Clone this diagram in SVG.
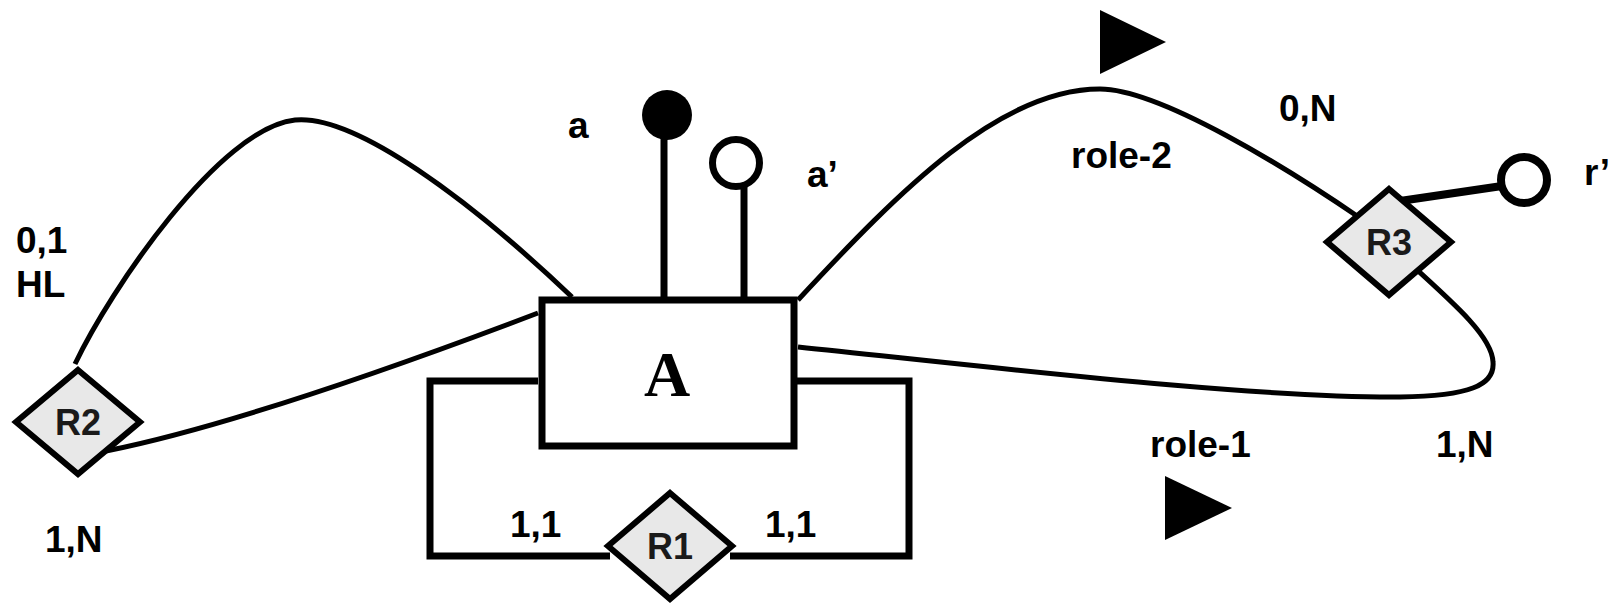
<svg xmlns="http://www.w3.org/2000/svg" width="1614" height="613" viewBox="0 0 1614 613">
<style>
.lbl{font-family:"Liberation Sans",Arial,sans-serif;font-weight:bold;font-size:37px;fill:#000}
.dl{font-family:"Liberation Sans",Arial,sans-serif;font-weight:bold;font-size:36px;fill:#1a1a1a;text-anchor:middle}
.ent{font-family:"Liberation Serif","Times New Roman",serif;font-weight:bold;font-size:64px;fill:#000;text-anchor:middle}
.curve{fill:none;stroke:#000;stroke-width:5}
.thick{fill:none;stroke:#000;stroke-width:7}
.dia{fill:#e8e8e8;stroke:#000;stroke-width:6;stroke-linejoin:miter}
</style>
<rect width="1614" height="613" fill="#fff"/>
<g id="connectors">
<path class="curve" d="M75,364 C110,290 220,128 295,120 C355,114 470,200 572,297"/>
<path class="curve" d="M106,451 Q251,422 538,313"/>
<path class="curve" d="M798,300 C900,190 1000,89 1100,89 C1160,89 1290,170 1360,218"/>
<path class="curve" d="M798,347 C1000,368 1250,398 1400,397 C1470,396 1495,385 1493,362 C1492,335 1450,300 1395,250"/>
<path class="thick" d="M538,381 H430 V556 H610"/>
<path class="thick" d="M797,381 H909 V556 H730"/>
<line class="thick" x1="664" y1="135" x2="664" y2="300"/>
<line class="thick" x1="744" y1="185" x2="744" y2="300"/>
<line x1="1400" y1="201" x2="1502" y2="186" stroke="#000" stroke-width="8"/>
</g>
<g id="A">
<rect x="542" y="300" width="252" height="146" fill="#fff" stroke="#000" stroke-width="7"/>
<text class="ent" x="667" y="396">A</text>
</g>
<g id="attr-a">
<circle cx="667" cy="115" r="25" fill="#000"/>
<text class="lbl" x="568" y="138">a</text>
</g>
<g id="attr-a2">
<circle cx="736" cy="163" r="23.5" fill="#fff" stroke="#000" stroke-width="7"/>
<text class="lbl" x="807" y="187">a’</text>
</g>
<g id="R1">
<path class="dia" d="M670,493 L732,546 L670,599 L608,546 Z"/>
<text class="dl" x="670" y="559">R1</text>
</g>
<g id="R2">
<path class="dia" d="M78,370 L140,422 L78,474 L16,422 Z"/>
<text class="dl" x="78" y="435">R2</text>
</g>
<g id="R3">
<path class="dia" d="M1389,189 L1451,242 L1389,295 L1327,242 Z"/>
<text class="dl" x="1389" y="255">R3</text>
</g>
<g id="attr-r">
<circle cx="1524" cy="180" r="23" fill="#fff" stroke="#000" stroke-width="8"/>
<text class="lbl" x="1584" y="185">r’</text>
</g>
<g id="labels">
<text class="lbl" x="16" y="253">0,1</text>
<text class="lbl" x="16" y="297">HL</text>
<text class="lbl" x="45" y="552">1,N</text>
<text class="lbl" x="510" y="537">1,1</text>
<text class="lbl" x="765" y="537">1,1</text>
<text class="lbl" x="1071" y="168">role-2</text>
<text class="lbl" x="1279" y="121">0,N</text>
<text class="lbl" x="1150" y="457">role-1</text>
<text class="lbl" x="1436" y="457">1,N</text>
<polygon points="1100,10 1100,74 1166,42" fill="#000"/>
<polygon points="1165,476 1165,540 1232,508" fill="#000"/>
</g>
</svg>
